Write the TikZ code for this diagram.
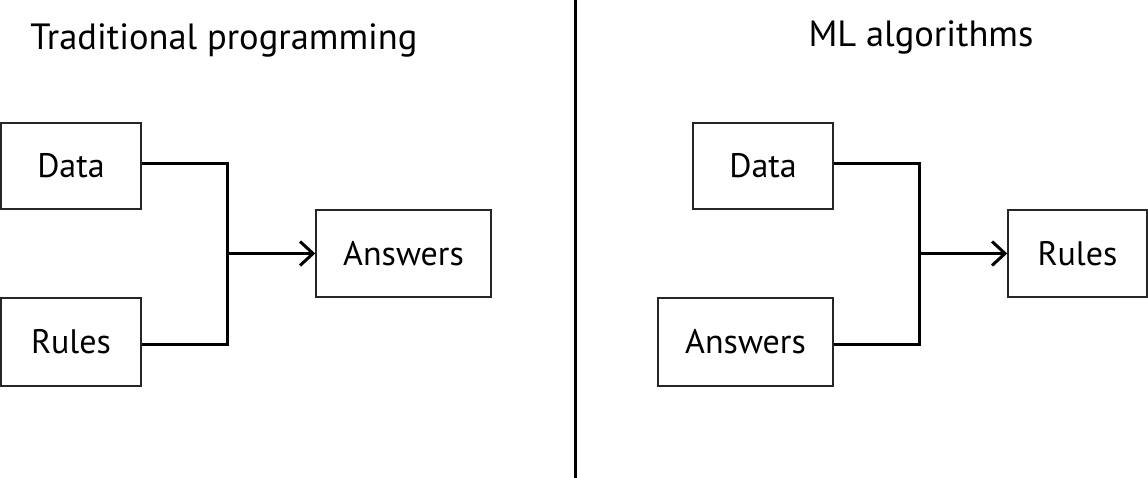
\documentclass[tikz,border=0pt]{standalone}
\usepackage{fontspec}
\setmainfont{PT Sans}
\usetikzlibrary{arrows.meta}
\begin{document}
\begin{tikzpicture}[x=1pt,y=-1pt,
  box/.style={draw=black!85, line width=1.5pt, inner sep=0pt, font=\fontsize{34}{37}\selectfont},
  conn/.style={line width=3pt, black},
  title/.style={font=\fontsize{36.5}{40}\selectfont, anchor=base, inner sep=0pt}]
\useasboundingbox (0,0) rectangle (1148,478);
% titles
\node[title] (t1) at (224,50) {Traditional programming};
\node[title] (t2) at (921,47) {ML algorithms};
% divider
\coordinate (dtop) at (575,0);
\coordinate (dbot) at (575,478);
\draw[line width=3pt] (dtop) -- (dbot);
% left diagram
\node[box, minimum width=140pt, minimum height=86pt] (dataL) at (71,166) {Data};
\node[box, minimum width=140pt, minimum height=88pt] (rulesL) at (71,342) {Rules};
\node[box, minimum width=175pt, minimum height=87pt] (ansL) at (403.5,253.5) {Answers};
\coordinate (jL) at (227,253.5);
\draw[conn] (dataL.east |- 0,164) -| (jL);
\draw[conn] (rulesL.east |- 0,344) -| (jL);
\draw[conn, -{Straight Barb[length=13pt,width=24pt,line width=3pt]}] (jL) -- (ansL.west);
% right diagram
\node[box, minimum width=140pt, minimum height=86pt] (dataR) at (763,166) {Data};
\node[box, minimum width=175pt, minimum height=88pt] (ansR) at (745.5,342) {Answers};
\node[box, minimum width=139pt, minimum height=87pt] (rulesR) at (1077.5,253.5) {Rules};
\coordinate (jR) at (919,253.5);
\draw[conn] (dataR.east |- 0,164) -| (jR);
\draw[conn] (ansR.east |- 0,344) -| (jR);
\draw[conn, -{Straight Barb[length=13pt,width=24pt,line width=3pt]}] (jR) -- (rulesR.west);
\end{tikzpicture}
\end{document}
